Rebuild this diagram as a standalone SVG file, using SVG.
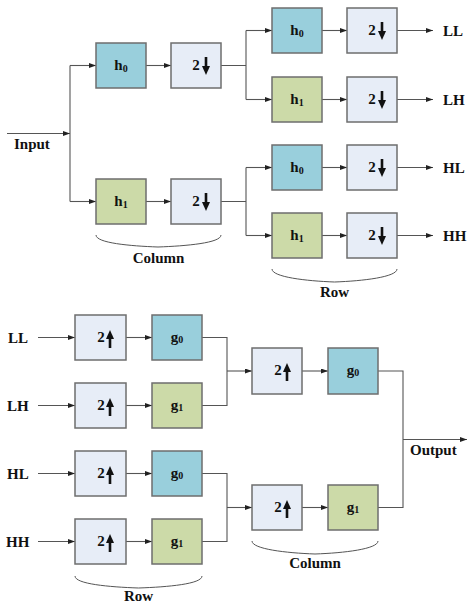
<svg xmlns="http://www.w3.org/2000/svg" xmlns:xlink="http://www.w3.org/1999/xlink" width="467" height="604" viewBox="0 0 467 604">
<style>
.box{stroke:#6e6e6e;stroke-width:1.5}
.lo{fill:#99cfdc}
.hi{fill:#ccdaa8}
.sm{fill:#e7edf7}
.t{font-family:"Liberation Serif","Times New Roman",serif;font-weight:bold;font-size:15px;fill:#111}
.c{text-anchor:middle}
.sub{font-size:10px}
.ln{fill:none;stroke:#555;stroke-width:1.1}
.br{fill:none;stroke:#555;stroke-width:1}
</style>
<defs>
<marker id="ah" viewBox="0 0 7 5" refX="7" refY="2.5" markerWidth="7" markerHeight="5" orient="auto" markerUnits="userSpaceOnUse"><path d="M0,0 L7,2.5 L0,5 z" fill="#222"/></marker>
<g id="dn" fill="#111"><rect x="-1.3" y="-9" width="2.6" height="10"/><polygon points="-4,0 4,0 0,9"/></g>
<g id="up" fill="#111"><rect x="-1.3" y="0" width="2.6" height="10"/><polygon points="-4,1 4,1 0,-8"/></g>
</defs>

<g id="connectors">
<path class="ln" d="M7,133.5 H70" marker-end="url(#ah)"/>
<path class="ln" d="M70,65.5 V201.5"/>
<path class="ln" d="M70,65.5 H96" marker-end="url(#ah)"/>
<path class="ln" d="M70,201.5 H96" marker-end="url(#ah)"/>
<path class="ln" d="M146,65.5 H171" marker-end="url(#ah)"/>
<path class="ln" d="M146,201.5 H171" marker-end="url(#ah)"/>
<path class="ln" d="M221,65.5 H246 M246,30.5 V99.5"/>
<path class="ln" d="M246,30.5 H272" marker-end="url(#ah)"/>
<path class="ln" d="M246,99.5 H272" marker-end="url(#ah)"/>
<path class="ln" d="M221,201.5 H246 M246,167.5 V235.5"/>
<path class="ln" d="M246,167.5 H272" marker-end="url(#ah)"/>
<path class="ln" d="M246,235.5 H272" marker-end="url(#ah)"/>
<path class="ln" d="M322,30.5 H347" marker-end="url(#ah)"/>
<path class="ln" d="M322,99.5 H347" marker-end="url(#ah)"/>
<path class="ln" d="M322,167.5 H347" marker-end="url(#ah)"/>
<path class="ln" d="M322,235.5 H347" marker-end="url(#ah)"/>
<path class="ln" d="M397,30.5 H433" marker-end="url(#ah)"/>
<path class="ln" d="M397,99.5 H433" marker-end="url(#ah)"/>
<path class="ln" d="M397,167.5 H433" marker-end="url(#ah)"/>
<path class="ln" d="M397,235.5 H433" marker-end="url(#ah)"/>
<path class="ln" d="M38,337.5 H75" marker-end="url(#ah)"/>
<path class="ln" d="M38,405.5 H75" marker-end="url(#ah)"/>
<path class="ln" d="M38,473.5 H75" marker-end="url(#ah)"/>
<path class="ln" d="M38,541.5 H75" marker-end="url(#ah)"/>
<path class="ln" d="M126,337.5 H152" marker-end="url(#ah)"/>
<path class="ln" d="M126,405.5 H152" marker-end="url(#ah)"/>
<path class="ln" d="M126,473.5 H152" marker-end="url(#ah)"/>
<path class="ln" d="M126,541.5 H152" marker-end="url(#ah)"/>
<path class="ln" d="M202,337.5 H227 V405.5 H202"/>
<path class="ln" d="M227,371 H252" marker-end="url(#ah)"/>
<path class="ln" d="M202,473.5 H227 V541.5 H202"/>
<path class="ln" d="M227,507.5 H252" marker-end="url(#ah)"/>
<path class="ln" d="M302,371 H328" marker-end="url(#ah)"/>
<path class="ln" d="M302,507.5 H328" marker-end="url(#ah)"/>
<path class="ln" d="M378,371 H403 V507.5 H378"/>
<path class="ln" d="M403,439.5 H467" marker-end="url(#ah)"/>
<path class="br" d="M96,235 C96,243 130,246 158,247 C186,246 221,243 221,235"/>
<path class="br" d="M272,269 C272,277 306,281 334.5,282 C363,281 397,277 397,269"/>
<path class="br" d="M75,576 C75,584 109,587 138.5,588 C168,587 202,584 202,576"/>
<path class="br" d="M252,541 C252,549 286,553 315,554 C344,553 378,549 378,541"/>
</g>

<text class="t" x="14" y="148.5">Input</text>
<text class="t c" x="158.5" y="263">Column</text>
<text class="t c" x="334.5" y="297">Row</text>
<text class="t" x="443" y="36">LL</text>
<text class="t" x="443" y="105">LH</text>
<text class="t" x="443" y="173">HL</text>
<text class="t" x="443" y="241">HH</text>
<text class="t" x="8" y="343">LL</text>
<text class="t" x="7" y="411">LH</text>
<text class="t" x="7" y="479">HL</text>
<text class="t" x="6" y="547">HH</text>
<text class="t" x="410" y="455">Output</text>
<text class="t c" x="138.5" y="601">Row</text>
<text class="t c" x="315" y="568">Column</text>

<g id="a_h0"><rect class="box lo" x="96" y="43" width="50" height="45"/><text class="t c" x="121" y="70">h<tspan class="sub" dy="2">0</tspan></text></g>
<g id="a_h1"><rect class="box hi" x="96" y="179" width="50" height="45"/><text class="t c" x="121" y="206">h<tspan class="sub" dy="2">1</tspan></text></g>
<g id="a_d0"><rect class="box sm" x="171" y="43" width="50" height="45"/><text class="t c" x="196" y="70">2</text><use xlink:href="#dn" x="206" y="66"/></g>
<g id="a_d1"><rect class="box sm" x="171" y="179" width="50" height="45"/><text class="t c" x="196" y="206">2</text><use xlink:href="#dn" x="206" y="202"/></g>

<g id="b_h0a"><rect class="box lo" x="272" y="8" width="50" height="45"/><text class="t c" x="297" y="35">h<tspan class="sub" dy="2">0</tspan></text></g>
<g id="b_h1a"><rect class="box hi" x="272" y="77" width="50" height="45"/><text class="t c" x="297" y="104">h<tspan class="sub" dy="2">1</tspan></text></g>
<g id="b_h0b"><rect class="box lo" x="272" y="145" width="50" height="45"/><text class="t c" x="297" y="172">h<tspan class="sub" dy="2">0</tspan></text></g>
<g id="b_h1b"><rect class="box hi" x="272" y="213" width="50" height="45"/><text class="t c" x="297" y="240">h<tspan class="sub" dy="2">1</tspan></text></g>
<g id="b_d1"><rect class="box sm" x="347" y="8" width="50" height="45"/><text class="t c" x="372" y="35">2</text><use xlink:href="#dn" x="382" y="31"/></g>
<g id="b_d2"><rect class="box sm" x="347" y="77" width="50" height="45"/><text class="t c" x="372" y="104">2</text><use xlink:href="#dn" x="382" y="100"/></g>
<g id="b_d3"><rect class="box sm" x="347" y="145" width="50" height="45"/><text class="t c" x="372" y="172">2</text><use xlink:href="#dn" x="382" y="168"/></g>
<g id="b_d4"><rect class="box sm" x="347" y="213" width="50" height="45"/><text class="t c" x="372" y="240">2</text><use xlink:href="#dn" x="382" y="236"/></g>

<g id="s_u1"><rect class="box sm" x="75" y="315" width="51" height="45"/><text class="t c" x="101" y="342">2</text><use xlink:href="#up" x="110" y="338"/></g>
<g id="s_u2"><rect class="box sm" x="75" y="383" width="51" height="45"/><text class="t c" x="101" y="410">2</text><use xlink:href="#up" x="110" y="406"/></g>
<g id="s_u3"><rect class="box sm" x="75" y="451" width="51" height="45"/><text class="t c" x="101" y="478">2</text><use xlink:href="#up" x="110" y="474"/></g>
<g id="s_u4"><rect class="box sm" x="75" y="519" width="51" height="45"/><text class="t c" x="101" y="546">2</text><use xlink:href="#up" x="110" y="542"/></g>
<g id="s_g0a"><rect class="box lo" x="152" y="315" width="50" height="45"/><text class="t c" x="177" y="342">g<tspan class="sub" dy="1">0</tspan></text></g>
<g id="s_g1a"><rect class="box hi" x="152" y="383" width="50" height="45"/><text class="t c" x="177" y="410">g<tspan class="sub" dy="1">1</tspan></text></g>
<g id="s_g0b"><rect class="box lo" x="152" y="451" width="50" height="45"/><text class="t c" x="177" y="478">g<tspan class="sub" dy="1">0</tspan></text></g>
<g id="s_g1b"><rect class="box hi" x="152" y="519" width="50" height="45"/><text class="t c" x="177" y="546">g<tspan class="sub" dy="1">1</tspan></text></g>

<g id="c_u1"><rect class="box sm" x="252" y="348" width="50" height="46"/><text class="t c" x="278" y="375">2</text><use xlink:href="#up" x="287" y="371"/></g>
<g id="c_u2"><rect class="box sm" x="252" y="485" width="50" height="45"/><text class="t c" x="278" y="512">2</text><use xlink:href="#up" x="287" y="508"/></g>
<g id="c_g0"><rect class="box lo" x="328" y="348" width="50" height="46"/><text class="t c" x="353" y="375">g<tspan class="sub" dy="1">0</tspan></text></g>
<g id="c_g1"><rect class="box hi" x="328" y="485" width="50" height="45"/><text class="t c" x="353" y="512">g<tspan class="sub" dy="1">1</tspan></text></g>
</svg>
